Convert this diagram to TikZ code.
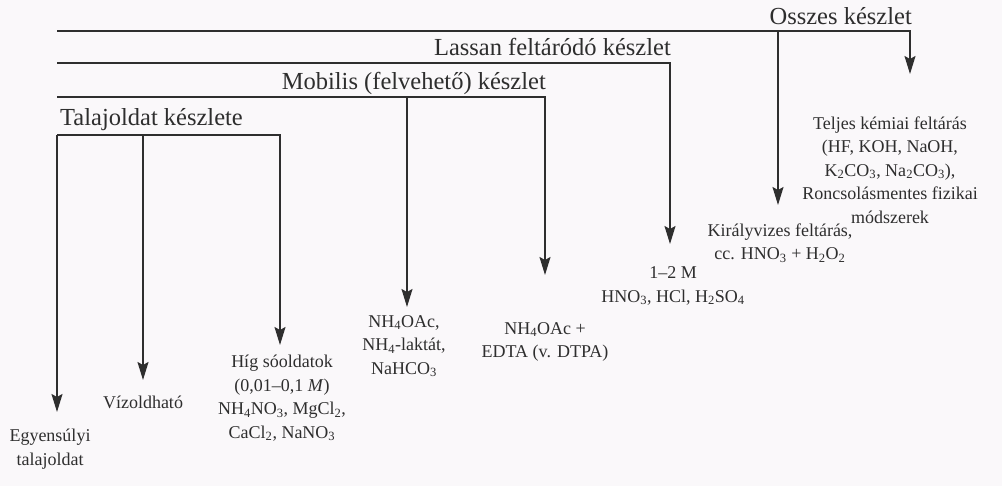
\documentclass[tikz,border=0pt]{standalone}
\usepackage{fontspec}
\setmainfont{Liberation Serif}
\usetikzlibrary{arrows.meta}
\definecolor{ink}{HTML}{2E2E2E}
\definecolor{paper}{HTML}{FAF8FA}
\tikzset{
  conn/.style={draw=ink, line width=1.6pt},
  arr/.style={conn, -{Stealth[length=18pt,width=11pt,inset=3pt]}},
  head/.style={text=ink, font=\fontsize{24.5}{26}\selectfont, inner sep=0pt},
  lbl/.style={text=ink, font=\fontsize{18}{23.5}\selectfont, align=center, inner sep=0pt},
}
\newcommand{\sbs}[1]{\textsubscript{#1}}
\begin{document}
\begin{tikzpicture}[x=1pt,y=-1pt]
\fill[paper] (0,0) rectangle (1002,486);
\useasboundingbox (0,0) rectangle (1002,486);

% headers
\node[head, anchor=base east] (hOsszes) at (912,25) {Osszes készlet};
\node[head, anchor=base east] (hLassan) at (671,56) {Lassan feltáródó készlet};
\node[head, anchor=base east] (hMobilis) at (546,90) {Mobilis (felvehető) készlet};
\node[head, anchor=base west] (hTalaj) at (60,126) {Talajoldat készlete};

% corner / branch coordinates
\coordinate (o0) at (57,31);
\coordinate (oK) at (778,31);
\coordinate (oE) at (910,31);
\coordinate (l0) at (57,63);
\coordinate (lE) at (670,63);
\coordinate (m0) at (57,97);
\coordinate (mN) at (407,97);
\coordinate (mE) at (545,97);
\coordinate (t0) at (57,135);
\coordinate (tV) at (143,135);
\coordinate (tE) at (280,135);

% arrow tips
\coordinate (pTeljes) at (910,74);
\coordinate (pKiraly) at (778,205);
\coordinate (pHNO) at (670,244);
\coordinate (pEDTA) at (545,275);
\coordinate (pNH) at (407,307);
\coordinate (pHig) at (280,345);
\coordinate (pViz) at (143,380);
\coordinate (pEgy) at (57,412);

% labels
\node[lbl] (teljes) at (890,170) {Teljes kémiai feltárás\\(HF, KOH, NaOH,\\K\sbs{2}CO\sbs{3}, Na\sbs{2}CO\sbs{3}),\\Roncsolásmentes fizikai\\módszerek};
\node[lbl] (kiraly) at (780,243) {Királyvizes feltárás,\\cc. HNO\sbs{3} + H\sbs{2}O\sbs{2}};
\node[lbl] (hno) at (673,286) {1–2 M\\HNO\sbs{3}, HCl, H\sbs{2}SO\sbs{4}};
\node[lbl] (edta) at (545,342) {NH\sbs{4}OAc +\\EDTA (v. DTPA)};
\node[lbl] (nh) at (404,346) {NH\sbs{4}OAc,\\NH\sbs{4}-laktát,\\NaHCO\sbs{3}};
\node[lbl] (hig) at (282,398) {Híg sóoldatok\\(0,01–0,1 \textit{M})\\NH\sbs{4}NO\sbs{3}, MgCl\sbs{2},\\CaCl\sbs{2}, NaNO\sbs{3}};
\node[lbl] (viz) at (143,402) {Vízoldható};
\node[lbl] (egy) at (50,449) {Egyensúlyi\\talajoldat};

% connectors
\draw[arr] (o0) -- (oE) -- (pTeljes);
\draw[arr] (oK) -- (pKiraly);
\draw[arr] (l0) -- (lE) -- (pHNO);
\draw[arr] (m0) -- (mE) -- (pEDTA);
\draw[arr] (mN) -- (pNH);
\draw[arr] (t0) -- (tE) -- (pHig);
\draw[arr] (tV) -- (pViz);
\draw[arr] (t0) -- (pEgy);
\end{tikzpicture}
\end{document}
